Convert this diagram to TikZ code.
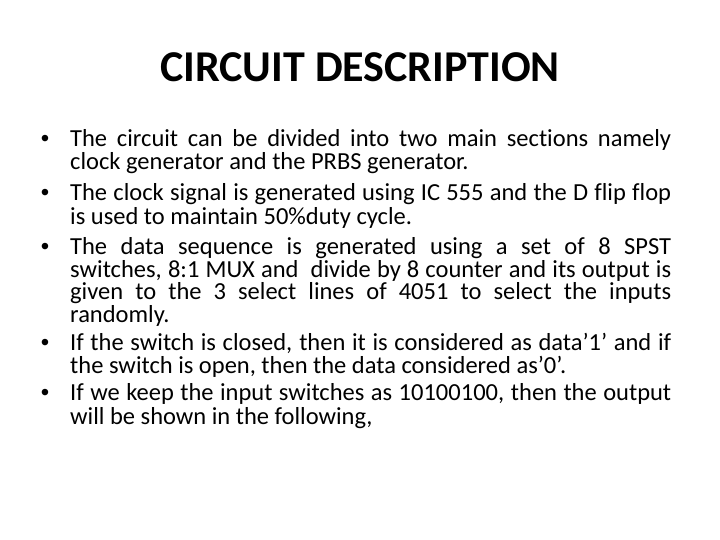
\documentclass[tikz,border=0pt]{standalone}
\usepackage{fontspec}
\setmainfont{Carlito}[Ligatures={NoCommon}]
\newfontfamily\bulletfont{Liberation Sans}
\begin{document}
\begin{tikzpicture}[x=1pt,y=-1pt,
  titletext/.style={anchor=base, inner sep=0pt, font=\fontsize{44}{50}\selectfont\bfseries},
  bodyline/.style={anchor=base west, inner sep=0pt, text height=16pt, text depth=5pt, font=\fontsize{24.5}{22}\selectfont},
  bul/.style={anchor=base, inner sep=0pt, font=\fontsize{24}{22}\selectfont\bulletfont}]
\useasboundingbox[fill=white] (0,0) rectangle (720,540);
\newcommand{\jl}[1]{\makebox[601pt][s]{#1}}
\node[titletext] (title) at (360,81.7) {CIRCUIT DESCRIPTION};
% bullets
\node[bul] (b1) at (45,147) {•};
\node[bul] (b2) at (45,200.5) {•};
\node[bul] (b3) at (45,254.5) {•};
\node[bul] (b4) at (45,350) {•};
\node[bul] (b5) at (45,400.5) {•};
% lines
\node[bodyline] (l1) at (70,147) {\jl{The circuit can be divided into two main sections namely}};
\node[bodyline] (l2) at (70,170) {clock generator and the PRBS generator.};
\node[bodyline] (l3) at (70,200.5) {\jl{The clock signal is generated using IC 555 and the D flip flop}};
\node[bodyline] (l4) at (70,224.5) {is used to maintain 50\%duty cycle.};
\node[bodyline] (l5) at (70,254.5) {\jl{The data sequence is generated using a set of 8 SPST}};
\node[bodyline] (l6) at (70,277) {\jl{switches, 8:1 MUX and\ \ divide by 8 counter and its output is}};
\node[bodyline] (l7) at (70,299.5) {\jl{given to the 3 select lines of 4051 to select the inputs}};
\node[bodyline] (l8) at (70,322) {randomly.};
\node[bodyline] (l9) at (70,350) {\jl{If the switch is closed, then it is considered as data’1’ and if}};
\node[bodyline] (l10) at (70,373) {the switch is open, then the data considered as’0’.};
\node[bodyline] (l11) at (70,400.5) {\jl{If we keep the input switches as 10100100, then the output}};
\node[bodyline] (l12) at (70,424.5) {will be shown in the following,};
\end{tikzpicture}
\end{document}
